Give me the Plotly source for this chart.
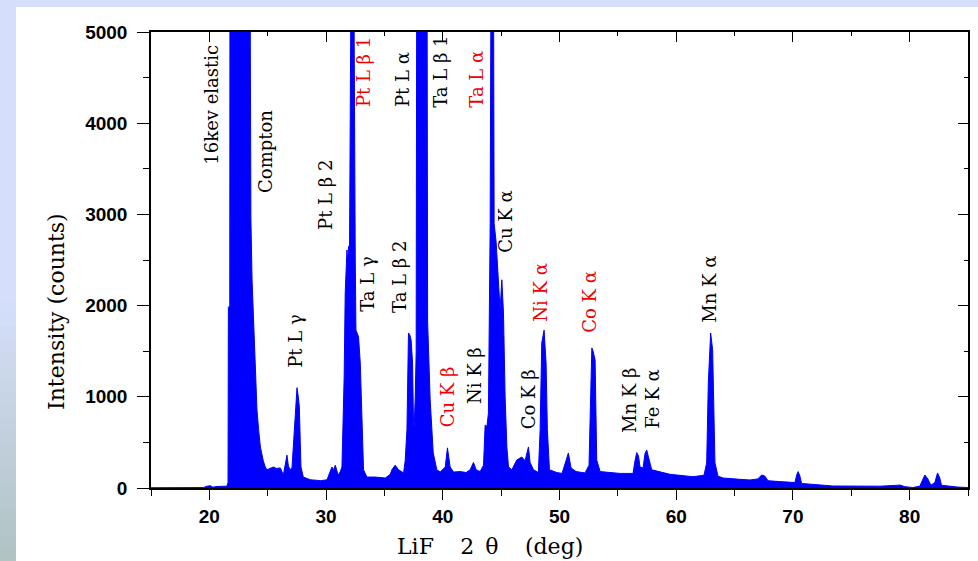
import plotly.graph_objects as go

# ---------------- data ----------------
two_theta = [
    15.0, 17.0, 19.5, 19.8, 20.1, 20.3, 20.5, 21.0, 21.5, 21.6, 21.63, 21.75,
    21.78, 22.0, 22.5, 23.0, 23.4, 23.5, 23.56, 23.66, 23.94, 24.08, 24.22,
    24.37, 24.62, 24.79, 24.94, 25.22, 25.48, 25.74, 26.08, 26.34, 26.51,
    26.65, 26.76, 26.89, 27.08, 27.19, 27.36, 27.51, 27.62, 27.71, 27.79,
    27.85, 28.05, 28.65, 29.16, 29.50, 30.08, 30.27, 30.50, 30.66, 30.79,
    31.04, 31.22, 31.36, 31.45, 31.55, 31.64, 31.79, 31.84, 31.93, 32.01,
    32.07, 32.13, 32.20, 32.24, 32.33, 32.44, 32.50, 32.56, 32.67, 32.78,
    32.93, 33.07, 33.21, 33.50, 34.21, 35.07, 35.50, 35.64, 35.92, 36.21,
    36.64, 36.78, 36.93, 37.06, 37.17, 37.29, 37.41, 37.49, 37.55, 37.64,
    37.72, 37.78, 38.07, 38.42, 38.65, 38.70, 38.92, 39.18, 39.49, 39.78,
    40.21, 40.40, 40.63, 40.92, 41.49, 42.00, 42.35, 42.63, 42.86, 43.20,
    43.49, 43.63, 43.78, 43.91, 44.06, 44.14, 44.34, 44.40, 44.57, 44.77,
    44.91, 45.06, 45.20, 45.34, 45.49, 45.63, 45.92, 46.34, 46.77, 47.05,
    47.34, 47.48, 47.77, 48.19, 48.34, 48.48, 48.68, 48.85, 48.96, 49.14,
    49.77, 50.22, 50.56, 50.76, 50.99, 51.42, 52.19, 52.53, 52.65, 52.77,
    52.88, 53.05, 53.19, 53.48, 55.19, 56.30, 56.47, 56.62, 56.77, 56.90,
    57.16, 57.33, 57.47, 57.61, 57.90, 59.47, 61.44, 62.38, 62.61, 62.75,
    62.95, 63.12, 63.23, 63.32, 63.58, 64.01, 65.46, 66.32, 67.00, 67.32,
    67.60, 67.86, 68.88, 69.74, 70.17, 70.34, 70.45, 70.60, 70.74, 73.42,
    77.45, 78.99, 79.16, 79.59, 80.27, 80.87, 81.30, 81.56, 81.82, 82.16,
    82.39, 82.58, 82.73, 84.13, 85.0,
]
counts = [
    3, 4, 5, 20, 25, 8, 15, 18, 20, 60, 1980, 2000,
    9000, 14000, 18000, 16000, 9000, 3400, 2950, 2280, 1372, 856, 640,
    450, 300, 230, 200, 215, 230, 215, 220, 143, 250,
    360, 250, 200, 220, 440, 800, 1100, 1000, 890, 500,
    230, 120, 90, 85, 80, 90, 150, 230, 200, 250,
    140, 180, 230, 600, 1220, 2140, 2610, 2480, 2650, 2650,
    3200, 3300, 4400, 8000, 7000, 3270, 2500, 1730, 1700, 1660,
    1370, 640, 200, 120, 120, 110, 150, 200, 250, 200,
    165, 300, 640, 1700, 1680, 1620, 1370, 710, 670, 1000,
    1500, 7000, 9500, 9000, 6000, 1826, 966, 384, 200, 175,
    230, 440, 230, 175, 180, 170, 200, 280, 200, 180,
    250, 690, 673, 820, 2900, 6000, 6000, 2900, 2700, 2210,
    1954, 2283, 1920, 1000, 450, 230, 200, 307, 340, 300,
    450, 280, 200, 170, 640, 1590, 1730, 1370, 640, 200,
    170, 160, 300, 384, 220, 180, 165, 250, 900, 1536,
    1500, 1405, 307, 180, 160, 160, 300, 388, 350, 230,
    220, 380, 417, 350, 200, 150, 124, 140, 275, 1150,
    1700, 1515, 800, 275, 130, 110, 95, 88, 100, 143,
    130, 80, 70, 60, 60, 150, 180, 130, 50, 22,
    20, 30, 33, 15, 5, 20, 143, 100, 30, 60,
    165, 110, 30, 10, 5,
]

x_ticks = [20, 30, 40, 50, 60, 70, 80]
y_ticks = [0, 1000, 2000, 3000, 4000, 5000]

labels = ["16kev elastic", "Compton", "Pt L \u03b2 1", "Pt L \u03b1",
          "Ta L \u03b2 1", "Ta L \u03b1", "Pt L \u03b2 2",
          "Pt L \u03b3", "Ta L \u03b3", "Ta L \u03b2 2",
          "Cu K \u03b2", "Ni K \u03b2", "Cu K \u03b1", "Ni K \u03b1",
          "Co K \u03b2", "Co K \u03b1", "Mn K \u03b2", "Fe K \u03b1",
          "Mn K \u03b1"]
label_x = [20.23, 24.79, 33.21, 36.55, 39.78, 42.86, 29.93, 27.42, 33.59, 36.35,
           40.40, 42.77, 45.43, 48.40, 47.34, 52.62, 56.04, 57.99, 62.88]
label_y = [4204, 3688, 4555, 4479, 4566, 4479, 3216, 1614, 2239, 2316,
           999, 1229, 2920, 2151, 977, 2042, 955, 977, 2184]
label_red = [False, False, True, False, False, True, False, False, False, False,
             True, False, False, True, False, True, False, False, False]

# ---------------- layout helpers (pixel -> paper) ----------------
W, H = 978, 561
ML, MR, MT, MB = 151, 10, 32, 73
PW, PH = W - ML - MR, H - MT - MB


def px(xp):
    return (xp - ML) / PW


def py(yp):
    return (H - MB - yp) / PH


fig = go.Figure()
fig.add_trace(go.Scatter(
    x=two_theta, y=counts, mode="lines", fill="tozeroy",
    line=dict(color="#0000ff", width=1), fillcolor="#0000ff",
    showlegend=False, hoverinfo="x+y",
))
# dummy trace for the mirrored (top/right) axes
fig.add_trace(go.Scatter(x=[None], y=[None], xaxis="x2", yaxis="y2",
                         showlegend=False, hoverinfo="skip"))

shapes = []
# white panel
shapes.append(dict(type="rect", xref="paper", yref="paper", layer="below",
                   x0=px(16), x1=px(W + 2), y0=py(H + 2), y1=py(7),
                   fillcolor="white", line=dict(width=0)))
# left strip gradient
top_c = (213, 223, 251)
bot_c = (176, 194, 194)
y_start = 300
n = 20
step = (H - y_start) / n
for i in range(n):
    t = (i + 0.5) / n
    c = tuple(int(round(top_c[k] + (bot_c[k] - top_c[k]) * t)) for k in range(3))
    shapes.append(dict(type="rect", xref="paper", yref="paper", layer="below",
                       x0=px(-2), x1=px(16), y0=py(y_start + (i + 1) * step + 0.5),
                       y1=py(y_start + i * step), fillcolor="rgb(%d,%d,%d)" % c,
                       line=dict(width=0)))

annotations = []
for txt, lx, ly, red in zip(labels, label_x, label_y, label_red):
    annotations.append(dict(
        x=lx, y=ly, xref="x", yref="y", text=txt, showarrow=False,
        textangle=-90, xanchor="center", yanchor="middle",
        font=dict(family="DejaVu Serif", size=18,
                  color="#ee0000" if red else "black"),
    ))
# axis titles
annotations.append(dict(x=px(56), y=py(312), xref="paper", yref="paper",
                        xanchor="center", yanchor="middle",
                        text="Intensity (counts)", showarrow=False, textangle=-90,
                        font=dict(family="DejaVu Serif", size=22, color="black")))
annotations.append(dict(x=px(490), y=py(546), xref="paper", yref="paper",
                        xanchor="center", yanchor="middle",
                        text="LiF\u2003\u20092\u2002\u03b8\u2003\u2009(deg)",
                        showarrow=False,
                        font=dict(family="DejaVu Serif", size=22, color="black")))

tickfont = dict(family="Liberation Sans", size=19, color="black", weight="bold")

fig.update_layout(
    width=W, height=H,
    margin=dict(l=ML, r=MR, t=MT, b=MB, pad=0),
    paper_bgcolor="rgb(213,223,251)",
    plot_bgcolor="white",
    shapes=shapes,
    annotations=annotations,
    xaxis=dict(range=[15, 85], tickvals=x_ticks, ticks="outside", ticklen=10,
               tickwidth=1.3, tickcolor="black", showline=True, linecolor="black",
               linewidth=1.5, showgrid=False, zeroline=False, tickfont=tickfont,
               minor=dict(dtick=5, tick0=15, ticks="outside", ticklen=6,
                          tickcolor="black", tickwidth=1.2, showgrid=False)),
    yaxis=dict(range=[0, 5000], tickvals=y_ticks, ticks="outside", ticklen=12,
               tickwidth=1.3, tickcolor="black", showline=True, linecolor="black",
               linewidth=1.5, showgrid=False, zeroline=False, tickfont=tickfont,
               ticklabelstandoff=6,
               minor=dict(dtick=500, tick0=0, ticks="outside", ticklen=6,
                          tickcolor="black", tickwidth=1.2, showgrid=False)),
    xaxis2=dict(range=[15, 85], overlaying="x", side="top", anchor="y2",
                tickvals=x_ticks, ticks="inside", ticklen=10, tickwidth=1.3,
                tickcolor="black", showline=True, linecolor="black", linewidth=1.5,
                showticklabels=False, showgrid=False, zeroline=False,
                minor=dict(dtick=5, tick0=15, ticks="inside", ticklen=4,
                           tickcolor="black", showgrid=False)),
    yaxis2=dict(range=[0, 5000], overlaying="y", side="right", anchor="x2",
                tickvals=y_ticks, ticks="inside", ticklen=10, tickwidth=1.3,
                tickcolor="black", showline=True, linecolor="black", linewidth=1.5,
                showticklabels=False, showgrid=False, zeroline=False,
                minor=dict(dtick=500, tick0=0, ticks="inside", ticklen=4,
                           tickcolor="black", showgrid=False)),
)

fig.write_html("out.html")
